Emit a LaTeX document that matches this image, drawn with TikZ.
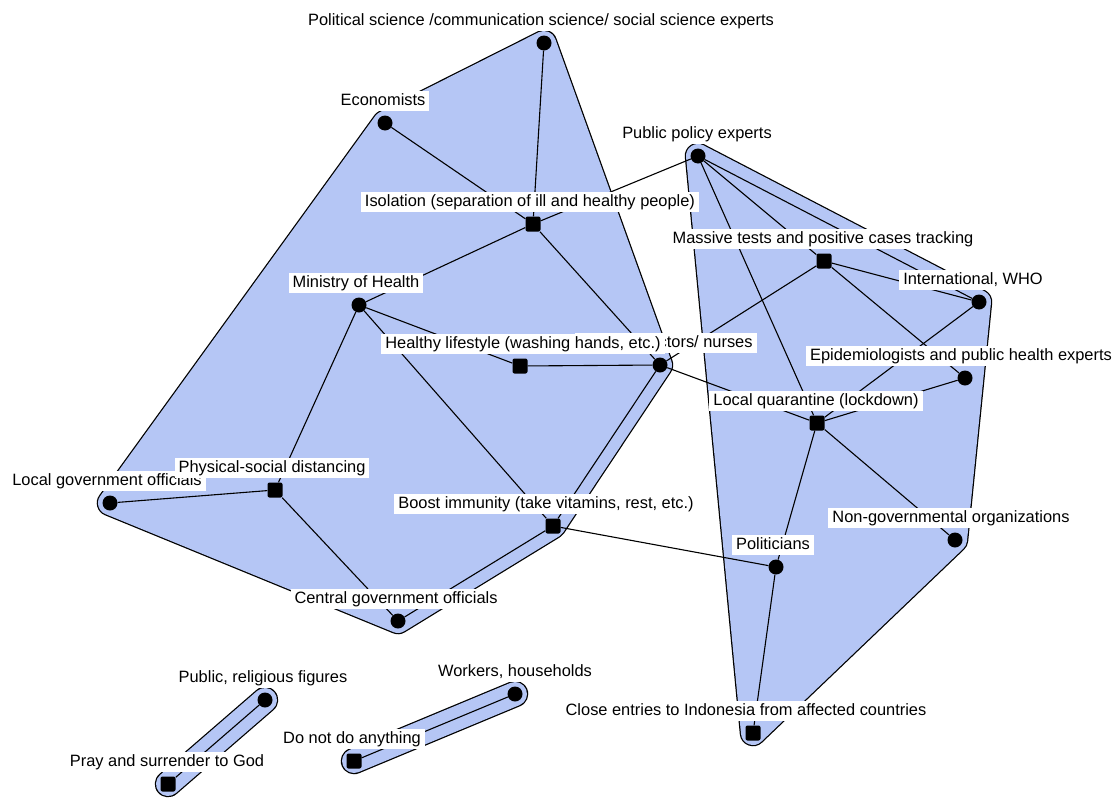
\documentclass[tikz,border=0pt]{standalone}
\usepackage{fontspec}
\setmainfont{Liberation Sans}
\pgfdeclarelayer{hulls}
\pgfdeclarelayer{links}
\pgfsetlayers{hulls,links,main}
\definecolor{hullblue}{RGB}{181,198,245}
% rounded hull: black rim, then blue body on top
\newcommand\drawhull[1]{%
  \filldraw[black,line width=26.5pt,line join=round,line cap=round] #1;
  \filldraw[hullblue,line width=24pt,line join=round,line cap=round] #1;}
\begin{document}
\begin{tikzpicture}[x=1pt,y=-1pt,
  actor/.style={circle,fill=black,minimum size=15pt,inner sep=0pt},
  strat/.style={rectangle,rounded corners=2pt,fill=black,minimum size=15pt,inner sep=0pt},
  every label/.style={fill=white,inner xsep=4pt,inner ysep=2.5pt,
    text height=12pt,text depth=3.5pt,font=\fontsize{16.4pt}{18pt}\selectfont},
  label distance=4pt,
  link/.style={line width=1.1pt,black}]
\useasboundingbox (0,0) rectangle (1112,798);

% actors (circles) and strategies (squares)
\node[actor,label={[xshift=-3pt]above:Political science /communication science/ social science experts}] (ps) at (544,43) {};
\node[actor,label={[xshift=-2pt]above:Economists}] (ec) at (385,123) {};
\node[actor,label={[xshift=-1pt]above:Public policy experts}] (pp) at (698,156) {};
\node[strat,label={[xshift=-3pt]above:Isolation (separation of ill and healthy people)}] (iso) at (533,224) {};
\node[strat,label={[xshift=-1pt]above:Massive tests and positive cases tracking}] (mt) at (824,261) {};
\node[actor,label={[xshift=-6pt]above:International, WHO}] (who) at (979,302) {};
\node[actor,label={[xshift=-3pt]above:Ministry of Health}] (moh) at (359,305) {};
\node[actor,label={[xshift=6pt]above:Medical doctors/ nurses}] (doc) at (660,365) {};
\node[strat,label={[xshift=3pt]above:Healthy lifestyle (washing hands, etc.)}] (hl) at (520,366) {};
\node[actor,label={[xshift=-4pt]above:Epidemiologists and public health experts}] (epi) at (965,378) {};
\node[strat,label={[xshift=-1pt]above:Local quarantine (lockdown)}] (lq) at (817,423) {};
\node[actor,label={[xshift=-3pt]above:Local government officials}] (lg) at (110,503) {};
\node[strat,label={[xshift=-3pt]above:Physical-social distancing}] (psd) at (275,490) {};
\node[strat,label={[xshift=-7pt]above:Boost immunity (take vitamins, rest, etc.)}] (bi) at (553,526) {};
\node[actor,label={[xshift=-4pt]above:Non-governmental organizations}] (ngo) at (955,540) {};
\node[actor,label={[xshift=-3pt]above:Politicians}] (pol) at (776,567) {};
\node[actor,label={[xshift=-2pt]above:Central government officials}] (cg) at (398,621) {};
\node[actor,label={[xshift=-2pt]above:Public, religious figures}] (prf) at (265,700) {};
\node[actor,label={[xshift=0pt]above:Workers, households}] (wh) at (515,694) {};
\node[strat,label={[xshift=-7pt]above:Close entries to Indonesia from affected countries}] (ce) at (753,733) {};
\node[strat,label={[xshift=-2pt]above:Do not do anything}] (dn) at (354,761) {};
\node[strat,label={[xshift=-1pt]above:Pray and surrender to God}] (pr) at (168,784) {};

% group hulls
\begin{pgfonlayer}{hulls}
  \drawhull{(ps.center) -- (doc.center) -- (bi.center) -- (cg.center) -- (lg.center) -- (ec.center) -- cycle}
  \drawhull{(pp.center) -- (who.center) -- (ngo.center) -- (ce.center) -- cycle}
  \drawhull{(prf.center) -- (pr.center)}
  \drawhull{(wh.center) -- (dn.center)}
\end{pgfonlayer}

% ties
\begin{pgfonlayer}{links}
  \draw[link] (ps) -- (iso);
  \draw[link] (ec) -- (iso);
  \draw[link] (iso) -- (moh);
  \draw[link] (iso) -- (doc);
  \draw[link] (iso) -- (pp);
  \draw[link] (moh) -- (hl);
  \draw[link] (moh) -- (bi);
  \draw[link] (moh) -- (psd);
  \draw[link] (psd) -- (lg);
  \draw[link] (psd) -- (cg);
  \draw[link] (hl) -- (doc);
  \draw[link] (doc) -- (bi);
  \draw[link] (bi) -- (cg);
  \draw[link] (bi) -- (pol);
  \draw[link] (doc) -- (lq);
  \draw[link] (pp) -- (mt);
  \draw[link] (pp) -- (lq);
  \draw[link] (pp) -- (who);
  \draw[link] (mt) -- (who);
  \draw[link] (mt) -- (epi);
  \draw[link] (mt) -- (doc);
  \draw[link] (who) -- (lq);
  \draw[link] (epi) -- (lq);
  \draw[link] (lq) -- (pol);
  \draw[link] (lq) -- (ngo);
  \draw[link] (pol) -- (ce);
  \draw[link] (prf) -- (pr);
  \draw[link] (wh) -- (dn);
\end{pgfonlayer}
\end{tikzpicture}
\end{document}
